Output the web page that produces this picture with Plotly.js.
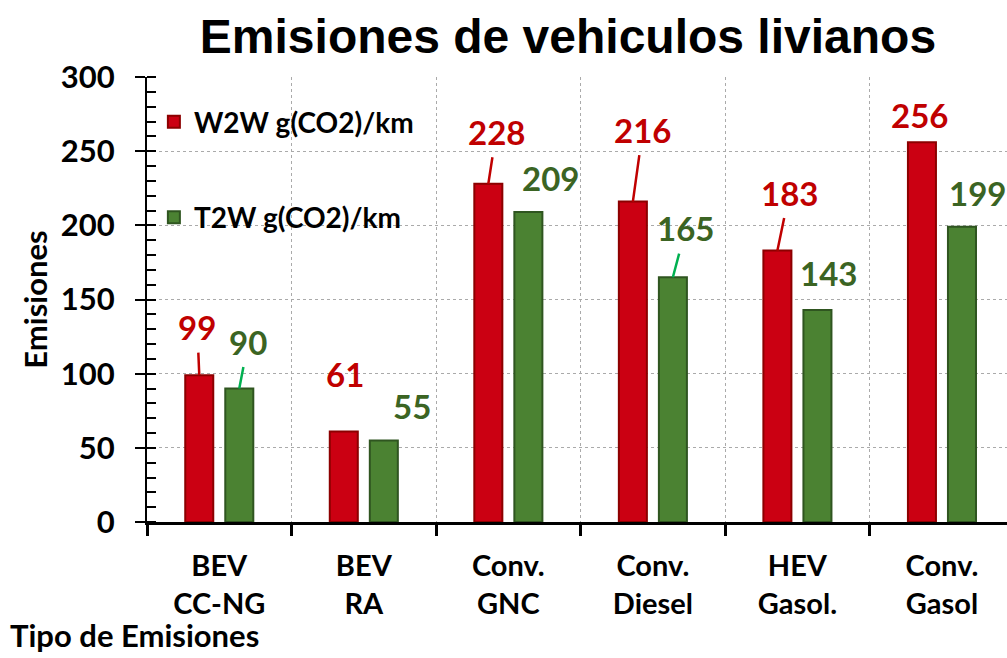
<!DOCTYPE html>
<html>
<head>
<meta charset="utf-8">
<script src="https://cdn.plot.ly/plotly-3.0.1.min.js"></script>
<style>html,body{margin:0;padding:0;background:#fff;}#chart{width:1007px;height:658px;}</style>
</head>
<body>
<div id="chart"></div>
<script>
// ---- data ----
const categories = ['BEV<br>CC-NG', 'BEV<br>RA', 'Conv.<br>GNC', 'Conv.<br>Diesel', 'HEV<br>Gasol.', 'Conv.<br>Gasol'];
const w2wValues = [99, 61, 228, 216, 183, 256];
const t2wValues = [90, 55, 209, 165, 143, 199];
const seriesNames = ['W2W g(CO2)/km', 'T2W g(CO2)/km'];
const yTicks = [0, 50, 100, 150, 200, 250, 300];

// ---- label placement (pixel offsets from bar top; style only) ----
const w2wLabelOffsets = [[-2, -48], [1, -58], [8, -52], [10, -72], [12, -58], [-2, -27]];
const t2wLabelOffsets = [[9, -47], [28, -34], [22, -34], [13, -49], [11, -37], [16, -34]];
const w2wLeader = [true, false, true, true, true, false];
const t2wLeader = [true, false, false, true, false, false];

const RED = '#CB0012', RED_EDGE = '#8C0000', RED_TEXT = '#C00000', RED_LINE = '#C00000';
const GREEN = '#4B8232', GREEN_EDGE = '#2F5520', GREEN_TEXT = '#3B6423', GREEN_LINE = '#00B050';
const FONT = 'Lato, "Open Sans", sans-serif';
const BAR_SHIFT = 20;

const traces = [
  {
    type: 'bar', name: seriesNames[0], x: categories, y: w2wValues,
    marker: {color: RED, line: {color: RED_EDGE, width: 2}},
    legendgroup: 'a', hoverinfo: 'x+y'
  },
  {
    type: 'bar', name: seriesNames[1], x: categories, y: t2wValues,
    marker: {color: GREEN, line: {color: GREEN_EDGE, width: 2}},
    legendgroup: 'b', hoverinfo: 'x+y'
  }
];

const annotations = [];
function addLabels(values, offsets, leaders, shift, textColor, lineColor) {
  values.forEach((v, i) => {
    annotations.push({
      x: categories[i], y: v, xref: 'x', yref: 'y', xshift: shift,
      text: String(v), showarrow: true,
      ax: offsets[i][0], ay: offsets[i][1],
      arrowhead: 0, arrowwidth: 2.5, standoff: 0, startstandoff: 4,
      arrowcolor: leaders[i] ? lineColor : 'rgba(0,0,0,0)',
      font: {family: FONT, size: 33, color: textColor, weight: 700}
    });
  });
}
addLabels(w2wValues, w2wLabelOffsets, w2wLeader, -BAR_SHIFT, RED_TEXT, RED_LINE);
addLabels(t2wValues, t2wLabelOffsets, t2wLeader, BAR_SHIFT, GREEN_TEXT, GREEN_LINE);

annotations.push({
  xref: 'paper', yref: 'paper', x: -0.162, y: -0.302, xanchor: 'left', yanchor: 'bottom',
  text: 'Tipo de Emisiones', showarrow: false,
  font: {family: FONT, size: 31, color: '#000', weight: 700}
});

const nCat = categories.length;
const xRange = [-0.5, 5.45];

const layout = {
  width: 1007, height: 658,
  margin: {l: 147, r: 0, t: 77, b: 136},
  paper_bgcolor: '#fff', plot_bgcolor: '#fff',
  title: {
    text: 'Emisiones de vehiculos livianos',
    font: {family: '"Liberation Sans", Arial, sans-serif', size: 48, color: '#000', weight: 700},
    x: 0.564, xanchor: 'center', y: 0.945, yanchor: 'middle', xref: 'container', yref: 'container'
  },
  barmode: 'group', bargap: 0.446, bargroupgap: 0.3,
  showlegend: true,
  legend: {
    x: 0.008, y: 0.955, xanchor: 'left', yanchor: 'top',
    traceorder: 'grouped', tracegroupgap: 56,
    bgcolor: 'rgba(0,0,0,0)',
    font: {family: FONT, size: 28, color: '#000', weight: 700}
  },
  xaxis: {
    type: 'category', range: xRange, tickson: 'boundaries',
    showline: true, linecolor: '#000', linewidth: 3,
    ticks: 'outside', ticklen: 11, tickwidth: 2.5, tickcolor: '#000',
    showgrid: true, gridcolor: '#AAAAAA', griddash: 'dot', gridwidth: 1,
    tickfont: {family: FONT, size: 29, color: '#000', weight: 700},
    ticklabelstandoff: 16, automargin: false, zeroline: false
  },
  xaxis2: {
    type: 'linear', overlaying: 'x', anchor: 'y', range: xRange,
    tickmode: 'array', tickvals: categories.map((c, i) => i + 0.5).slice(0, nCat - 1).concat([-0.5]),
    ticks: 'inside', ticklen: 9, tickwidth: 2.5, tickcolor: '#000',
    showticklabels: false, showgrid: false, showline: false, zeroline: false
  },
  xaxis3: {
    type: 'linear', overlaying: 'x', anchor: 'y', range: xRange,
    tickmode: 'array', tickvals: categories.map((c, i) => i),
    ticks: 'inside', ticklen: 6, tickwidth: 2, tickcolor: '#000',
    showticklabels: false, showgrid: false, showline: false, zeroline: false
  },
  xaxis4: {
    type: 'linear', overlaying: 'x', anchor: 'y', side: 'top', range: xRange,
    showline: true, linecolor: '#444', linewidth: 2,
    ticks: '', showticklabels: false, showgrid: false, zeroline: false
  },
  yaxis: {
    range: [0, 300], tickmode: 'array', tickvals: yTicks,
    showline: true, linecolor: '#000', linewidth: 2,
    ticks: 'outside', ticklen: 10, tickwidth: 2, tickcolor: '#000',
    minor: {dtick: 10, ticks: 'inside', ticklen: 9, tickwidth: 1.5, tickcolor: '#000', showgrid: false},
    showgrid: true, gridcolor: '#AAAAAA', griddash: 'dot', gridwidth: 1,
    zeroline: false,
    tickfont: {family: FONT, size: 31, color: '#000', weight: 700},
    ticklabelstandoff: 14,
    title: {text: 'Emisiones', font: {family: FONT, size: 31, color: '#000', weight: 700}, standoff: 4},
    automargin: false
  },
  annotations: annotations
};

Plotly.newPlot('chart', traces, layout, {displayModeBar: false});
</script>
</body>
</html>
